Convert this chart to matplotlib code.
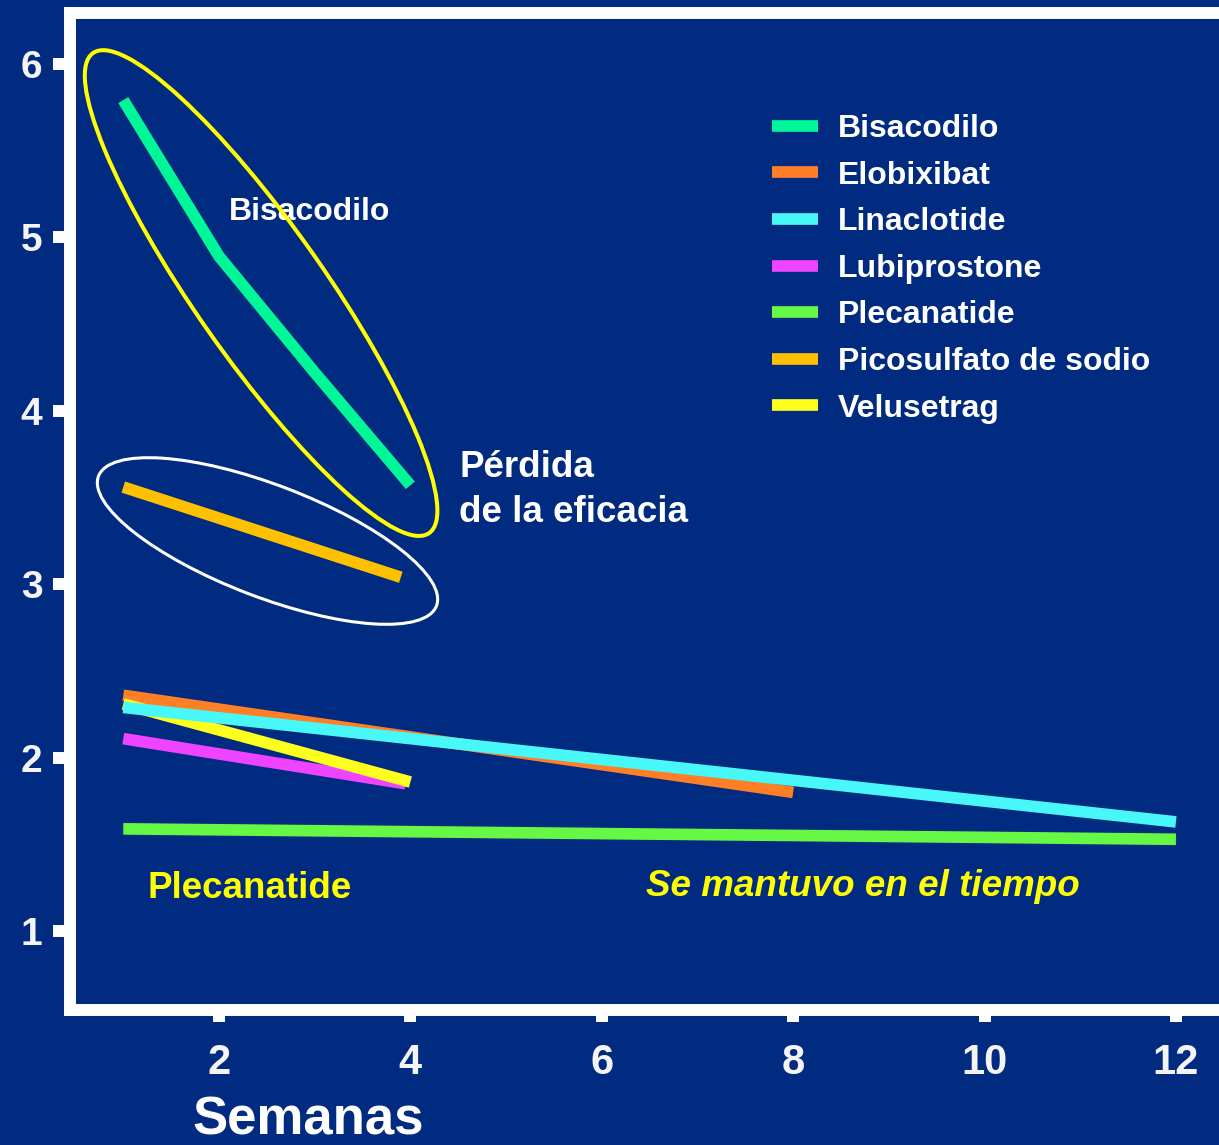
import matplotlib
matplotlib.use("Agg")
import matplotlib.pyplot as plt
from matplotlib.patches import Ellipse
from matplotlib.transforms import ScaledTranslation

plt.rcParams['font.family'] = ['Liberation Sans', 'DejaVu Sans']
plt.rcParams['font.weight'] = 'bold'

BG = '#012b80'

# ---- data ----
series_names = ["Bisacodilo", "Elobixibat", "Linaclotide", "Lubiprostone",
                "Plecanatide", "Picosulfato de sodio", "Velusetrag"]
bisacodilo_x = [1, 2, 3, 4]
bisacodilo_y = [5.79, 4.89, 4.22, 3.57]
elobixibat_x = [1, 8]
elobixibat_y = [2.36, 1.80]
linaclotide_x = [1, 12]
linaclotide_y = [2.29, 1.63]
lubiprostone_x = [1, 3.95]
lubiprostone_y = [2.11, 1.85]
plecanatide_x = [1, 12]
plecanatide_y = [1.59, 1.53]
picosulfato_x = [1, 3.9]
picosulfato_y = [3.56, 3.04]
velusetrag_x = [1, 4]
velusetrag_y = [2.31, 1.86]

x_ticks = [2, 4, 6, 8, 10, 12]
y_ticks = [1, 2, 3, 4, 5, 6]

colors = ['#00f797', '#ff7f27', '#48f8f8', '#ee44ff', '#66f844', '#ffc000', '#ffff1e']
zorders = [3, 2, 6, 3, 3, 3, 5]
xs = [bisacodilo_x, elobixibat_x, linaclotide_x, lubiprostone_x, plecanatide_x, picosulfato_x, velusetrag_x]
ys = [bisacodilo_y, elobixibat_y, linaclotide_y, lubiprostone_y, plecanatide_y, picosulfato_y, velusetrag_y]

fig = plt.figure(figsize=(12.19, 11.45), dpi=100, facecolor=BG)
ax = fig.add_axes([69.5/1219, 135/1145, 1 - 69.5/1219, (1010-12.5)/1145])
ax.set_facecolor(BG)

lw = 8.4
handles = []
for name, x, y, c, z in zip(series_names, xs, ys, colors, zorders):
    h, = ax.plot(x, y, color=c, lw=lw, solid_capstyle='butt', solid_joinstyle='round',
                 zorder=z, label=name)
    handles.append(h)

ax.set_xlim(0.438, 12.45)
ax.set_ylim(0.546, 6.295)
ax.set_xticks(x_ticks)
ax.set_yticks(y_ticks)

for s in ['left', 'bottom', 'top']:
    ax.spines[s].set_color('white')
    ax.spines[s].set_linewidth(8.6)
ax.spines['right'].set_visible(False)

ax.tick_params(axis='y', colors='white', length=12.6, width=8.6, pad=7, labelsize=28,
               direction='out')
ax.tick_params(axis='x', colors='white', length=8.4, width=8.6, pad=15.5, labelsize=30,
               direction='out')
for lab in ax.get_xticklabels() + ax.get_yticklabels():
    lab.set_fontweight('bold')
    lab.set_color('#f4f4f4')

ax.set_xlabel('Semanas', color='white', fontsize=38, fontweight='bold', va='baseline')
ax.xaxis.set_label_coords(0.208, -0.1245)

# legend
leg = ax.legend(handles=handles, loc='upper left',
                bbox_to_anchor=(772/1219, 1 - 114/1145), bbox_transform=fig.transFigure,
                frameon=False, borderpad=0, borderaxespad=0,
                fontsize=23, handlelength=1.44, handletextpad=0.62, labelspacing=0.52)
for t in leg.get_texts():
    t.set_color('white')
    t.set_fontweight('bold')

# annotations
ax.text(2.95, 5.145, 'Bisacodilo', color='white', fontsize=23, fontweight='bold',
        ha='center', va='center', zorder=7)
ax.text(4.51, 3.545, 'Pérdida\nde la eficacia', color='white', fontsize=26.5,
        fontweight='bold', ha='left', va='center', linespacing=1.37)
ax.text(2.32, 1.191, 'Plecanatide', color='#ffff00', fontsize=26.5, fontweight='bold',
        ha='center', va='baseline')
ax.text(8.73, 1.205, 'Se mantuvo en el tiempo', color='#ffff00', fontsize=26.5,
        fontweight='bold', style='italic', ha='center', va='baseline')

# highlight ellipses (sizes in inches around a data-space centre)
e1 = Ellipse((0, 0), 5.86, 1.30, angle=-55.0, fill=False, edgecolor='#ffff00', lw=2.9,
             transform=fig.dpi_scale_trans + ScaledTranslation(2.44, 4.678, ax.transData),
             zorder=8)
e2 = Ellipse((0, 0), 3.62, 1.12, angle=-21, fill=False, edgecolor='white', lw=2.2,
             transform=fig.dpi_scale_trans + ScaledTranslation(2.507, 3.249, ax.transData),
             zorder=8)
ax.add_patch(e1)
ax.add_patch(e2)

fig.savefig('out.png', dpi=100, facecolor=BG)
